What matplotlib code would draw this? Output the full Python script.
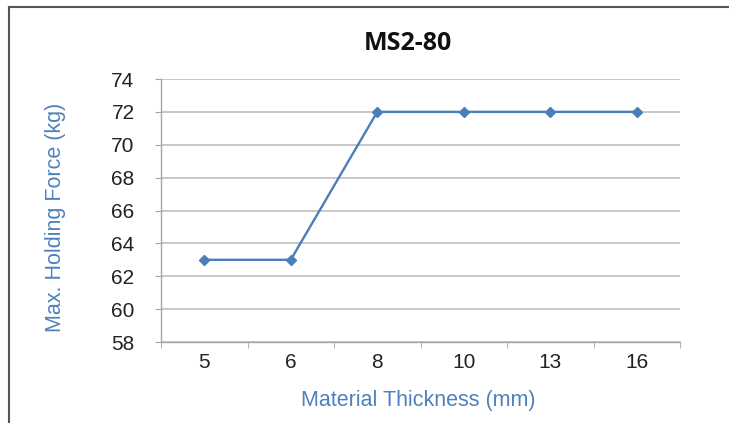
import matplotlib
matplotlib.use("Agg")
import matplotlib.pyplot as plt
from matplotlib.lines import Line2D

categories = ["5", "6", "8", "10", "13", "16"]
values = [63, 63, 72, 72, 72, 72]
yticks = [58, 60, 62, 64, 66, 68, 70, 72, 74]
title = "MS2-80"
xlabel = "Material Thickness (mm)"
ylabel = "Max. Holding Force (kg)"

blue = "#4a7ebb"
label_blue = "#4f81bd"
grid_gray = "#bfbfbf"

plt.rcParams['font.family'] = ['Liberation Sans', 'DejaVu Sans']

fig = plt.figure(figsize=(7.29, 4.23), dpi=100)
ax = fig.add_axes([161/729, 1-342/423, (680-161)/729, (342-79)/423])

x = list(range(len(categories)))
ax.plot(x, values, color=blue, linewidth=1.7, marker='D', markersize=5.5,
        markerfacecolor=blue, markeredgecolor=blue, zorder=3)

ax.set_xlim(-0.5, len(categories) - 0.5)
ax.set_ylim(yticks[0], yticks[-1])
ax.set_yticks(yticks)
ax.set_yticklabels([str(v) for v in yticks])
ax.set_xticks(x)
ax.set_xticklabels(categories)
ax.set_xticks([i - 0.5 for i in range(len(categories) + 1)], minor=True)

ax.grid(axis='y', color=grid_gray, linewidth=1.2, zorder=0)
for s in ['top', 'right']:
    ax.spines[s].set_visible(False)
for s in ['left', 'bottom']:
    ax.spines[s].set_color('#a6a6a6')
    ax.spines[s].set_linewidth(1.0)

ax.tick_params(axis='y', which='major', length=4, color='#a6a6a6', labelsize=15,
               labelcolor='#222222', pad=15)
ax.tick_params(axis='x', which='major', length=0, labelsize=15,
               labelcolor='#222222', pad=8)
ax.tick_params(axis='x', which='minor', length=4, color='#a6a6a6')

fig.text(408/729, 1-44/423, title, ha='center', va='center', fontsize=18,
         fontweight='bold', family=['Open Sans', 'DejaVu Sans'], color='#111111')
fig.text(418/729, 1-400/423, xlabel, ha='center', va='center', fontsize=15.5,
         color=label_blue)
fig.text(56/729, 1-217/423, ylabel, ha='center', va='center', fontsize=15.5,
         color=label_blue, rotation=90)

# outer frame (top and left edges visible)
fig.add_artist(Line2D([9/729, 1], [1-7/423, 1-7/423], transform=fig.transFigure,
                      color='#555555', linewidth=1.5))
fig.add_artist(Line2D([9/729, 9/729], [0, 1-7/423], transform=fig.transFigure,
                      color='#555555', linewidth=1.5))

fig.savefig("out.png", dpi=100, facecolor='white')
